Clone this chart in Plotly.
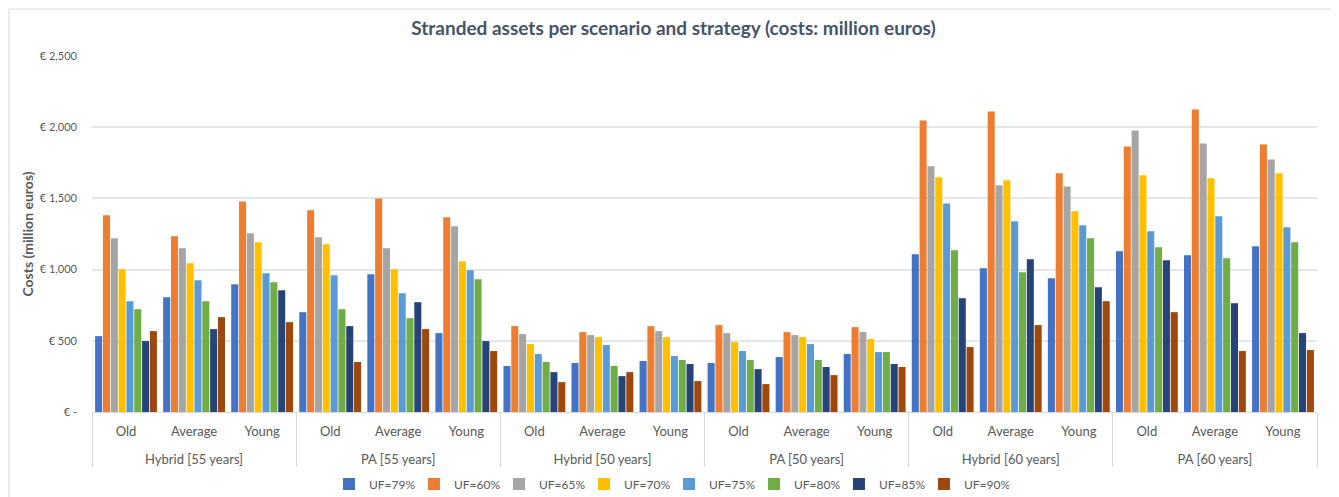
import plotly.graph_objects as go

# scenarios (outer level) and strategies (inner level)
scenarios = ["Hybrid [55 years]", "PA [55 years]", "Hybrid [50 years]",
             "PA [50 years]", "Hybrid [60 years]", "PA [60 years]"]
strategies = ["Old", "Average", "Young"]

series_names = ["UF=79%", "UF=60%", "UF=65%", "UF=70%",
                "UF=75%", "UF=80%", "UF=85%", "UF=90%"]
colors = ["#4472C4", "#ED7D31", "#A5A5A5", "#FFC000",
          "#5B9BD5", "#70AD47", "#264478", "#9E480E"]

# costs (million euros), one list per UF series, 18 values in scenario/strategy order
uf79 = [533, 806, 897, 701, 968, 554, 323, 344, 358, 344, 386, 407, 1108, 1010, 939, 1129, 1101, 1164]
uf60 = [1381, 1234, 1479, 1416, 1500, 1367, 603, 561, 603, 610, 561, 596, 2047, 2110, 1676, 1865, 2124, 1879]
uf65 = [1220, 1150, 1255, 1227, 1150, 1304, 547, 540, 568, 554, 540, 561, 1725, 1592, 1584, 1977, 1886, 1774]
uf70 = [1003, 1045, 1192, 1178, 1003, 1059, 477, 526, 526, 491, 526, 512, 1648, 1627, 1409, 1662, 1641, 1676]
uf75 = [778, 925, 975, 960, 834, 996, 407, 470, 393, 428, 477, 421, 1465, 1339, 1311, 1269, 1374, 1297]
uf80 = [722, 778, 911, 722, 659, 932, 351, 323, 365, 365, 365, 421, 1136, 982, 1220, 1157, 1080, 1192]
uf85 = [498, 582, 855, 603, 771, 498, 280, 252, 337, 301, 316, 337, 799, 1073, 876, 1066, 764, 554]
uf90 = [568, 666, 631, 351, 582, 428, 210, 280, 217, 196, 259, 316, 456, 610, 778, 701, 428, 435]
values = [uf79, uf60, uf65, uf70, uf75, uf80, uf85, uf90]

tick_vals = [0, 500, 1000, 1500, 2000, 2500]
tick_text = ["€ -", "€ 500", "€ 1,000", "€ 1,500", "€ 2,000", "€ 2,500"]

# leading line break drops the scenario row a bit lower, like the original
outer = ["<br>" + s for s in scenarios for _ in strategies]
inner = [t for _ in scenarios for t in strategies]

txt = "#595959"
font = "Lato, 'Open Sans', sans-serif"

fig = go.Figure()
for name, col, vals in zip(series_names, colors, values):
    fig.add_trace(go.Bar(x=[outer, inner], y=vals, name=name,
                         marker=dict(color=col, line=dict(width=0))))

# page body has an 8px margin, so the figure is 8px smaller than the window
fig.update_layout(
    width=1331, height=489,
    barmode="group", bargap=0.08, bargroupgap=0.1,
    plot_bgcolor="white", paper_bgcolor="white",
    font=dict(family=font, color=txt, size=12),
    margin=dict(l=84, r=22, t=48, b=85),
    title=dict(text="<b>Stranded assets per scenario and strategy (costs: million euros)</b>",
               x=0.5, xref="container", xanchor="center",
               y=0.959, yref="container", yanchor="middle",
               font=dict(size=19, color="#44546A", family=font)),
    legend=dict(orientation="h", x=0.471, xanchor="center",
                y=0.0266, yref="container", yanchor="middle",
                font=dict(size=12, color=txt), itemwidth=30,
                entrywidth=40, traceorder="normal"),
    shapes=[dict(type="rect", xref="paper", yref="paper",
                 x0=-0.0678, x1=1.0131, y0=-0.25, y1=1.132,
                 line=dict(color="#D9D9D9", width=1))],
)
fig.update_xaxes(type="multicategory", showline=True, linecolor="#D9D9D9",
                 showdividers=True, dividercolor="#D9D9D9", dividerwidth=1,
                 ticks="", tickfont=dict(size=13, color=txt), ticklabelstandoff=7,
                 automargin=False)
fig.update_yaxes(range=[0, 2500], tickvals=tick_vals, ticktext=tick_text,
                 showgrid=True, gridcolor="#E3E6EB", gridwidth=1.5, zeroline=False,
                 tickfont=dict(size=11, color=txt), ticks="", ticklabelstandoff=14,
                 automargin=False,
                 title=dict(text="<b>Costs (million euros)</b>", standoff=2,
                            font=dict(size=14, color=txt)))

fig.write_html("out.html")
